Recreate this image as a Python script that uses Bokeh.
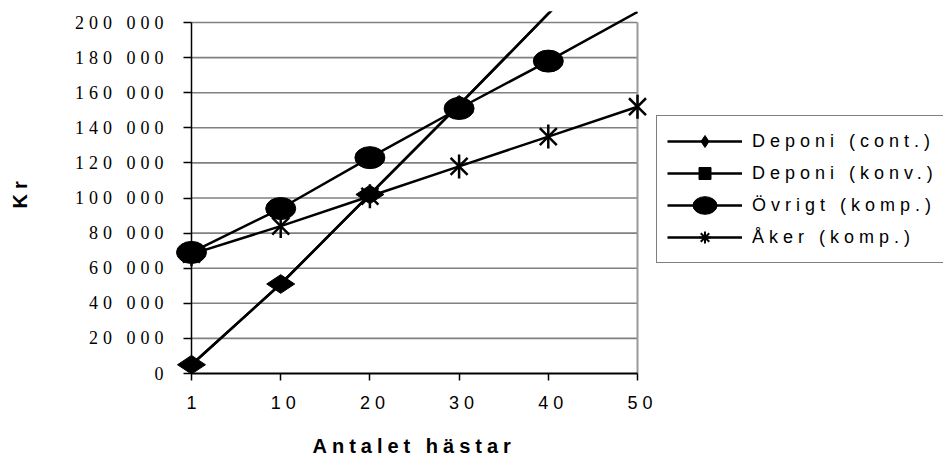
import math

from bokeh.embed import file_html
from bokeh.models import (ColumnDataSource, FixedTicker, InlineStyleSheet, Label,
                          Legend, LegendItem, Range1d)
from bokeh.plotting import figure
from bokeh.resources import INLINE

# ---- data -------------------------------------------------------------
horses = [1, 10, 20, 30, 40, 50]
deponi_cont = [5000, 51000, 102000, 153000, 205000, 256000]
deponi_konv = [5000, 51000, 102000, 153000, 205000, 256000]
ovrigt_komp = [69000, 94000, 123000, 151000, 178000, 206000]
aker_komp = [68000, 84000, 101000, 118000, 135000, 152000]
series_names = ["Deponi (cont.)", "Deponi (konv.)", "Övrigt (komp.)", "Åker (komp.)"]
y_ticks = [0, 20000, 40000, 60000, 80000, 100000, 120000, 140000, 160000, 180000, 200000]
x_title = "Antalet hästar"
y_title = "Kr"

FONT = "Liberation Sans"
BLACK = "#000000"
GRID = "#808080"
SPACING = 5  # letter spacing of all texts, px

xs = list(range(len(horses)))
y_max = y_ticks[-1]

# canvas and plot-area geometry (pixels from the top-left corner)
W, H = 943, 457
A_LEFT, A_RIGHT, A_TOP, A_BOTTOM = 191, 637, 22, 373
CHART_TOP = 11   # lines that leave the value axis are cut here

px_x = (A_RIGHT - A_LEFT) / (len(horses) - 1)
px_y = (A_BOTTOM - A_TOP) / y_max
x_range = Range1d(-A_LEFT / px_x, (len(horses) - 1) + (W - A_RIGHT) / px_x)
y_range = Range1d(-(H - A_BOTTOM) / px_y, y_max + (A_TOP - CHART_TOP) / px_y)

p = figure(width=W, height=H, output_backend="svg", toolbar_location=None,
           x_range=x_range, y_range=y_range,
           min_border_left=0, min_border_right=0, min_border_top=CHART_TOP, min_border_bottom=0)
p.outline_line_color = None
p.background_fill_color = "white"
p.border_fill_color = "white"
p.xgrid.visible = False
p.ygrid.visible = False
p.stylesheets.append(InlineStyleSheet(css=f":host {{ letter-spacing: {SPACING}px; }}"))

# horizontal gridlines and right border of the plot area
p.segment(x0=[0] * (len(y_ticks) - 1), x1=[xs[-1]] * (len(y_ticks) - 1),
          y0=y_ticks[1:], y1=y_ticks[1:], line_color=GRID, line_width=1.6)
p.segment(x0=[xs[-1]], x1=[xs[-1]], y0=[0], y1=[y_max], line_color="#9a9a9a", line_width=2)

# ---- axes -------------------------------------------------------------
xa = p.xaxis[0]
xa.fixed_location = 0
xa.bounds = (0, xs[-1])
xa.ticker = FixedTicker(ticks=xs)
xa.major_label_overrides = {i: str(h) for i, h in zip(xs, horses)}
xa.major_tick_out = 7
xa.major_tick_in = 0
xa.minor_tick_line_color = None
xa.axis_line_width = 2
xa.axis_line_color = BLACK
xa.major_tick_line_color = BLACK
xa.major_tick_line_width = 1.5
xa.major_label_standoff = 15
xa.major_label_text_font = FONT
xa.major_label_text_font_size = "18px"
xa.major_label_text_color = BLACK

ya = p.yaxis[0]
ya.fixed_location = 0
ya.bounds = (0, y_max)
ya.ticker = FixedTicker(ticks=y_ticks)
ya.major_label_text_color = None   # value labels are drawn below, with their own alignment
ya.major_tick_out = 8
ya.major_tick_in = 0
ya.minor_tick_line_color = None
ya.axis_line_width = 1.5
ya.axis_line_color = BLACK
ya.major_tick_line_color = BLACK
ya.major_tick_line_width = 1.5

# value labels of the y axis, right-aligned; the offset undoes the letter spacing
y_labels = [f"{v:,}".replace(",", " ") for v in y_ticks]
ylab = ColumnDataSource(dict(
    x=[0] * len(y_ticks), y=y_ticks, text=y_labels,
    dx=[(163 - A_LEFT) - (len(t) - 1) * SPACING for t in y_labels]))
p.text(x="x", y="y", text="text", x_offset="dx", source=ylab,
       text_align="right", text_baseline="middle",
       text_font=FONT, text_font_size="18px", text_color=BLACK)


def shown(vals):
    """Points that lie inside the value axis."""
    idx = [i for i, v in enumerate(vals) if v <= y_max]
    return [xs[i] for i in idx], [vals[i] for i in idx]


LW = 2.5

# Deponi (konv.)
r_konv_l = p.line(xs, deponi_konv, line_color=BLACK, line_width=LW)
kx, ky = shown(deponi_konv)
r_konv_m = p.scatter(kx, ky, marker="square", size=10, color=BLACK)

# Deponi (cont.)
r_cont_l = p.line(xs, deponi_cont, line_color=BLACK, line_width=LW)
cx, cy = shown(deponi_cont)
r_cont_m = p.scatter(cx, cy, marker="diamond", size=28, angle=math.pi / 2, color=BLACK)

# Övrigt (komp.)
r_ovr_l = p.line(xs, ovrigt_komp, line_color=BLACK, line_width=LW)
ox, oy = shown(ovrigt_komp)
r_ovr_m = p.ellipse(ox, oy, width=30, height=22, width_units="screen", height_units="screen",
                    fill_color=BLACK, line_color=BLACK)

# Åker (komp.): an x with a vertical stroke
r_ak_l = p.line(xs, aker_komp, line_color=BLACK, line_width=LW)
ax_, ay_ = shown(aker_komp)
r_ak_x = p.scatter(ax_, ay_, marker="x", size=24, line_color=BLACK, line_width=2.5)
r_ak_v = p.scatter(ax_, ay_, marker="dash", size=24, angle=math.pi / 2, line_color=BLACK, line_width=2.5)
# legend swatch for the same series (the legend draws markers unrotated)
r_ak_leg = p.scatter(ax_, ay_, marker="asterisk", size=24, line_color=BLACK, line_width=2,
                     visible=False)

# ---- legend -----------------------------------------------------------
items = [
    LegendItem(label=series_names[0], renderers=[r_cont_l, r_cont_m]),
    LegendItem(label=series_names[1], renderers=[r_konv_l, r_konv_m]),
    LegendItem(label=series_names[2], renderers=[r_ovr_l, r_ovr_m]),
    LegendItem(label=series_names[3], renderers=[r_ak_l, r_ak_leg]),
]
L_PAD, L_GH, L_SP = 10, 30, 2
L_TOP, L_LEFT = 117, 656
legend_h = 2 * L_PAD + len(items) * L_GH + (len(items) - 1) * L_SP
legend = Legend(items=items, location=(L_LEFT, H - L_TOP - legend_h),
                padding=L_PAD, spacing=L_SP, margin=0,
                glyph_width=75, glyph_height=L_GH, label_standoff=10, label_width=220,
                label_text_font=FONT, label_text_font_size="18px", label_text_color=BLACK,
                border_line_color=BLACK, border_line_width=1,
                background_fill_color="white", background_fill_alpha=1.0,
                inactive_fill_alpha=0.0)
p.add_layout(legend)

# ---- axis titles ------------------------------------------------------
p.add_layout(Label(x=312, y=H - 445, x_units="screen", y_units="screen",
                   text=x_title, text_align="left", text_baseline="middle",
                   text_font=FONT, text_font_size="20px", text_font_style="bold",
                   text_color=BLACK))
p.add_layout(Label(x=19, y=H - 208, x_units="screen", y_units="screen",
                   text=y_title, angle=math.pi / 2, text_align="left", text_baseline="middle",
                   text_font=FONT, text_font_size="20px", text_font_style="bold",
                   text_color=BLACK))

open("out.html", "w").write(file_html(p, INLINE))
